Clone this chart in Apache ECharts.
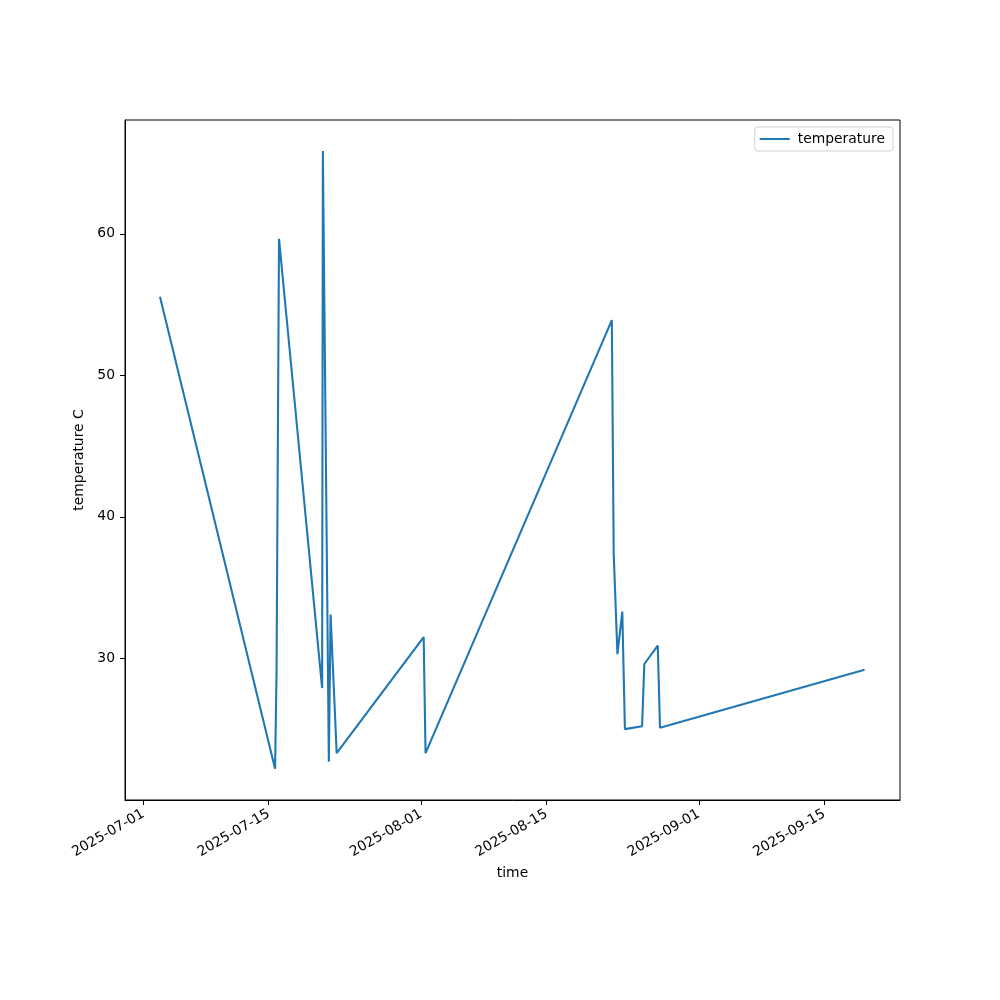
<!DOCTYPE html>
<html><head><meta charset="utf-8">
<script src="https://cdn.jsdelivr.net/npm/echarts@6/dist/echarts.min.js"></script>
<style>html,body{margin:0;padding:0;background:#fff}#c{width:1000px;height:1000px}</style>
</head><body><div id="c"></div>
<script>
const times = [
  '2025-07-02 20:40','2025-07-15 17:00','2025-07-15 21:00','2025-07-16 03:30',
  '2025-07-20 23:00','2025-07-21 01:00','2025-07-21 17:00','2025-07-21 21:40',
  '2025-07-22 14:00','2025-08-01 07:00','2025-08-01 12:00','2025-08-22 07:00',
  '2025-08-22 12:00','2025-08-22 22:00','2025-08-23 11:00','2025-08-23 18:00',
  '2025-08-25 16:00','2025-08-25 22:00','2025-08-27 10:00','2025-08-27 16:00',
  '2025-09-19 12:00'
];
const temperature = [
  55.55, 22.2, 29.2, 59.65,
  27.9, 65.85, 22.7, 33.1,
  23.3, 31.5, 23.3, 53.9,
  37.4, 30.3, 33.3, 25.0,
  25.2, 29.6, 30.9, 25.1,
  29.2
];
const xTickLabels = ['2025-07-01','2025-07-15','2025-08-01','2025-08-15','2025-09-01','2025-09-15'];
const yTicks = [30, 40, 50, 60];

const toTs = s => new Date(s.replace(' ', 'T')).getTime();
const xTicks = xTickLabels.map(s => toTs(s + ' 00:00'));
const seriesData = times.map((t, i) => [toTs(t), temperature[i]]);
const pad = n => (n < 10 ? '0' : '') + n;
const fmt = v => { const d = new Date(v); return d.getFullYear() + '-' + pad(d.getMonth() + 1) + '-' + pad(d.getDate()); };

const font = 'DejaVu Sans';
const chart = echarts.init(document.getElementById('c'), null, {renderer: 'canvas'});
chart.setOption({
  animation: false,
  backgroundColor: '#fff',
  textStyle: {fontFamily: font},
  grid: {left: 125, right: 100, top: 120, bottom: 200, show: true, borderColor: '#000', borderWidth: 1, backgroundColor: 'transparent'},
  legend: {
    top: 127, right: 107,
    data: [{name: 'temperature', icon: 'rect'}],
    backgroundColor: '#fff', borderColor: '#d0d0d0', borderWidth: 1, borderRadius: 3,
    padding: [5, 8, 5, 5], itemWidth: 30, itemHeight: 2, itemGap: 10,
    textStyle: {fontFamily: font, fontSize: 13.9, color: '#000', padding: [0, 0, 0, 3]}
  },
  xAxis: {
    type: 'value',
    min: toTs('2025-06-28 23:00'), max: toTs('2025-09-23 10:50'),
    name: 'time', nameLocation: 'middle', nameGap: 66,
    nameTextStyle: {fontFamily: font, fontSize: 13.9, color: '#000'},
    splitLine: {show: false},
    axisLine: {show: true, onZero: false, lineStyle: {color: '#000', width: 1}},
    axisTick: {show: true, inside: false, length: 5, lineStyle: {color: '#000'}, customValues: xTicks},
    axisLabel: {customValues: xTicks, formatter: fmt, rotate: 30, margin: 13, fontFamily: font, fontSize: 13.9, color: '#000', hideOverlap: false}
  },
  yAxis: {
    type: 'value', min: 19.99, max: 68.04,
    name: 'temperature C', nameLocation: 'middle', nameGap: 28, nameRotate: 90,
    nameTextStyle: {fontFamily: font, fontSize: 13.9, color: '#000'},
    splitLine: {show: false},
    axisLine: {show: true, lineStyle: {color: '#000', width: 1}},
    axisTick: {show: true, inside: false, length: 5, lineStyle: {color: '#000'}, customValues: yTicks},
    axisLabel: {customValues: yTicks, margin: 10, fontFamily: font, fontSize: 13.9, color: '#000'}
  },
  series: [{
    name: 'temperature', type: 'line', data: seriesData,
    symbol: 'none', showSymbol: false,
    lineStyle: {color: '#1f77b4', width: 2.08},
    itemStyle: {color: '#1f77b4'}
  }]
});
</script></body></html>
